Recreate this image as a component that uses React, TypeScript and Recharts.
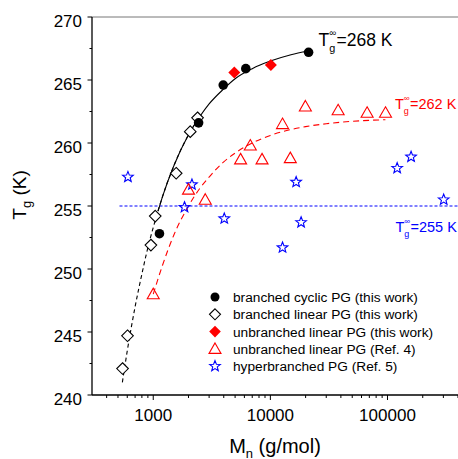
import React from 'react';
import { ScatterChart, Scatter, XAxis, YAxis, ReferenceLine } from 'recharts';

const FONT = '"Liberation Sans", Arial, Helvetica, sans-serif';

// branched cyclic PG (this work)
const cyclicM = [1130, 2440, 3960, 6170, 21200];
const cyclicTg = [252.8, 261.6, 264.6, 265.9, 267.2];

// branched linear PG (this work)
const linearM = [547, 603, 955, 1040, 1570, 2070, 2390];
const linearTg = [242.1, 244.7, 251.9, 254.2, 257.6, 260.9, 262.0];

// unbranched linear PG (this work)
const unbrM = [4920, 10100];
const unbrTg = [265.6, 266.2];

// unbranched linear PG (Ref. 4)
const ref4M = [1000, 2000, 2780, 5570, 6740, 8490, 12700, 14800, 19900, 37900, 67000, 96200];
const ref4Tg = [248.0, 256.3, 255.5, 258.7, 259.8, 258.7, 261.5, 258.8, 262.9, 262.6, 262.4, 262.4];

// hyperbranched PG (Ref. 5)
const hypM = [608, 1850, 2140, 4040, 12700, 16600, 18300, 121000, 159000, 302000];
const hypTg = [257.3, 254.9, 256.7, 254.0, 251.7, 256.9, 253.7, 258.0, 258.9, 255.5];

// fitted curves
const fitLinM = [545, 600, 700, 800, 900, 1000, 1200, 1500, 2000, 2500];
const fitLinTg = [241.0, 243.5, 247.0, 249.6, 251.7, 253.3, 255.75, 258.2, 260.65, 262.1];
const fitCycM = [1100, 1200, 1500, 2000, 2500, 3000, 4000, 5000, 7000, 10000, 15000, 21000];
const fitCycTg = [254.6, 255.75, 258.2, 260.65, 262.1, 263.1, 264.3, 265.1, 265.9, 266.5, 267.0, 267.3];
const fitRefM = [1000, 1200, 1500, 2000, 2500, 3000, 4000, 5000, 7000, 10000, 15000, 20000, 30000, 50000, 96000];
const fitRefTg = [248.0, 250.3, 252.7, 255.0, 256.4, 257.3, 258.5, 259.2, 260.0, 260.6, 261.07, 261.3, 261.53, 261.72, 261.85];
const hypLimitM = [515, 400000];
const hypLimitTg = [255, 255];

const xTicks = [
  400, 500, 600, 700, 800, 900, 1000,
  2000, 3000, 4000, 5000, 6000, 7000, 8000, 9000, 10000,
  20000, 30000, 40000, 50000, 60000, 70000, 80000, 90000, 100000,
  200000, 300000, 400000,
];
const xMajor = [1000, 10000, 100000];
const yTicks = [240, 242.5, 245, 247.5, 250, 252.5, 255, 257.5, 260, 262.5, 265, 267.5, 270];

const zip = (xs: number[], ys: number[]) => xs.map((x, i) => ({ x, y: ys[i] }));

const diamondPath = (x: number, y: number, r: number) =>
  `M${x},${y - r}L${x + r},${y}L${x},${y + r}L${x - r},${y}Z`;
const trianglePath = (x: number, y: number) =>
  `M${x},${y - 6}L${x + 6},${y + 4.5}L${x - 6},${y + 4.5}Z`;
const starPath = (x: number, y: number) => {
  const pts: string[] = [];
  for (let i = 0; i < 10; i++) {
    const r = i % 2 === 0 ? 5.6 : 2.4;
    const a = -Math.PI / 2 + (i * Math.PI) / 5;
    pts.push(`${(x + r * Math.cos(a)).toFixed(2)},${(y + r * Math.sin(a)).toFixed(2)}`);
  }
  return 'M' + pts.join('L') + 'Z';
};

const Dot = (p: any) => <circle cx={p.cx} cy={p.cy} r={4.8} fill="#000" />;
const OpenDiamond = (p: any) => (
  <path d={diamondPath(p.cx, p.cy, 5.8)} fill="#fff" stroke="#000" strokeWidth={1.1} />
);
const RedDiamond = (p: any) => <path d={diamondPath(p.cx, p.cy, 6)} fill="#ff0000" />;
const Triangle = (p: any) => (
  <path d={trianglePath(p.cx, p.cy)} fill="none" stroke="#ff0000" strokeWidth={1.1} />
);
const Star = (p: any) => <path d={starPath(p.cx, p.cy)} fill="none" stroke="#0000ff" strokeWidth={1.1} />;
const NoMark = () => <g />;

const XTick = ({ x, y, payload }: any) => {
  const major = xMajor.includes(payload.value);
  return (
    <g>
      <line x1={x} x2={x} y1={y} y2={y + (major ? 5 : 3)} stroke="#000" strokeWidth={1} />
      {major && (
        <text x={x} y={y + 26} textAnchor="middle" fontSize={17} fontFamily={FONT} fill="#000">
          {payload.value}
        </text>
      )}
    </g>
  );
};

const YTick = ({ x, y, payload }: any) => {
  const major = payload.value % 5 === 0;
  return (
    <g>
      <line x1={x - (major ? 4.5 : 2.5)} x2={x} y1={y} y2={y} stroke="#000" strokeWidth={1} />
      {major && (
        <text x={x - 10} y={y + 10} textAnchor="end" fontSize={17} fontFamily={FONT} fill="#000">
          {payload.value}
        </text>
      )}
    </g>
  );
};

const legendItems = [
  { label: 'branched cyclic PG (this work)', mark: 'dot' },
  { label: 'branched linear PG (this work)', mark: 'diamond' },
  { label: 'unbranched linear PG (this work)', mark: 'reddiamond' },
  { label: 'unbranched linear PG (Ref. 4)', mark: 'triangle' },
  { label: 'hyperbranched PG (Ref. 5)', mark: 'star' },
];

function LegendMark({ mark, x, y }: { mark: string; x: number; y: number }) {
  if (mark === 'dot') return <circle cx={x} cy={y} r={4.5} fill="#000" />;
  if (mark === 'diamond')
    return <path d={diamondPath(x, y, 5.5)} fill="#fff" stroke="#000" strokeWidth={1.1} />;
  if (mark === 'reddiamond') return <path d={diamondPath(x, y, 5.8)} fill="#ff0000" />;
  if (mark === 'triangle')
    return <path d={trianglePath(x, y)} fill="none" stroke="#ff0000" strokeWidth={1.1} />;
  return <path d={starPath(x, y)} fill="none" stroke="#0000ff" strokeWidth={1.1} />;
}

function Limit({ x, y, size, color, value }: { x: number; y: number; size: number; color: string; value: string }) {
  const tw = size * 0.611;
  return (
    <g fill={color} fontFamily={FONT}>
      <text x={x} y={y} fontSize={size}>T</text>
      <text x={x + tw} y={y - size * 0.55} fontSize={size * 0.55}>∞</text>
      <text x={x + tw} y={y + size * 0.35} fontSize={size * 0.62}>g</text>
      <text x={x + tw + size * 0.42} y={y} fontSize={size}>{value}</text>
    </g>
  );
}

export default function App() {
  return (
    <div style={{ position: 'absolute', left: 0, top: 0, width: 458, height: 459, background: '#fff' }}>
      <ScatterChart width={458} height={459} margin={{ top: 17, right: 0, bottom: 0, left: 0 }}>
        <XAxis
          dataKey="x"
          type="number"
          scale="log"
          domain={[300, 400000]}
          allowDataOverflow
          ticks={xTicks}
          interval={0}
          tick={<XTick />}
          tickLine={false}
          tickSize={0}
          tickMargin={0}
          height={64}
          axisLine={{ stroke: '#000', strokeWidth: 1.3 }}
        />
        <YAxis
          dataKey="y"
          type="number"
          domain={[240, 270]}
          allowDataOverflow
          ticks={yTicks}
          interval={0}
          tick={<YTick />}
          tickLine={false}
          tickSize={0}
          tickMargin={0}
          width={92}
          axisLine={{ stroke: '#000', strokeWidth: 1.3 }}
        />
        <ReferenceLine y={270} stroke="#777" strokeWidth={1} />
        <Scatter
          data={zip(hypLimitM, hypLimitTg)}
          shape={NoMark}
          line={{ stroke: '#0000ff', strokeWidth: 1, strokeDasharray: '3 2' }}
          isAnimationActive={false}
        />
        <Scatter
          data={zip(fitRefM, fitRefTg)}
          shape={NoMark}
          line={{ stroke: '#ff0000', strokeWidth: 1.1, strokeDasharray: '6 4' }}
          lineJointType="monotoneX"
          isAnimationActive={false}
        />
        <Scatter
          data={zip(fitLinM, fitLinTg)}
          shape={NoMark}
          line={{ stroke: '#000', strokeWidth: 1.1, strokeDasharray: '4 3' }}
          lineJointType="monotoneX"
          isAnimationActive={false}
        />
        <Scatter
          data={zip(fitCycM, fitCycTg)}
          shape={NoMark}
          line={{ stroke: '#000', strokeWidth: 1.1 }}
          lineJointType="monotoneX"
          isAnimationActive={false}
        />
        <Scatter data={zip(hypM, hypTg)} shape={Star} isAnimationActive={false} />
        <Scatter data={zip(ref4M, ref4Tg)} shape={Triangle} isAnimationActive={false} />
        <Scatter data={zip(linearM, linearTg)} shape={OpenDiamond} isAnimationActive={false} />
        <Scatter data={zip(cyclicM, cyclicTg)} shape={Dot} isAnimationActive={false} />
        <Scatter data={zip(unbrM, unbrTg)} shape={RedDiamond} isAnimationActive={false} />
      </ScatterChart>
      <svg
        width={458}
        height={459}
        style={{ position: 'absolute', left: 0, top: 0, pointerEvents: 'none' }}
      >
        <Limit x={318.5} y={45.7} size={17.5} color="#000" value="=268 K" />
        <Limit x={395} y={109} size={14.5} color="#ff0000" value="=262 K" />
        <Limit x={395.5} y={232.3} size={14.5} color="#0000ff" value="=255 K" />
        {legendItems.map((it, i) => {
          const y = 297 + i * 17.3;
          return (
            <g key={it.label}>
              <LegendMark mark={it.mark} x={215} y={y} />
              <text x={233} y={y + 5} fontSize={13.7} fontFamily={FONT} fill="#000">
                {it.label}
              </text>
            </g>
          );
        })}
        <text x={275} y={452.5} textAnchor="middle" fontSize={20} fontFamily={FONT} fill="#000">
          M<tspan fontSize={13} dy={5}>n</tspan>
          <tspan dy={-5}> (g/mol)</tspan>
        </text>
        <text
          transform="translate(25.5,195) rotate(-90)"
          textAnchor="middle"
          fontSize={19}
          fontFamily={FONT}
          fill="#000"
        >
          T<tspan fontSize={13} dy={5}>g</tspan>
          <tspan dy={-5}> (K)</tspan>
        </text>
      </svg>
    </div>
  );
}
